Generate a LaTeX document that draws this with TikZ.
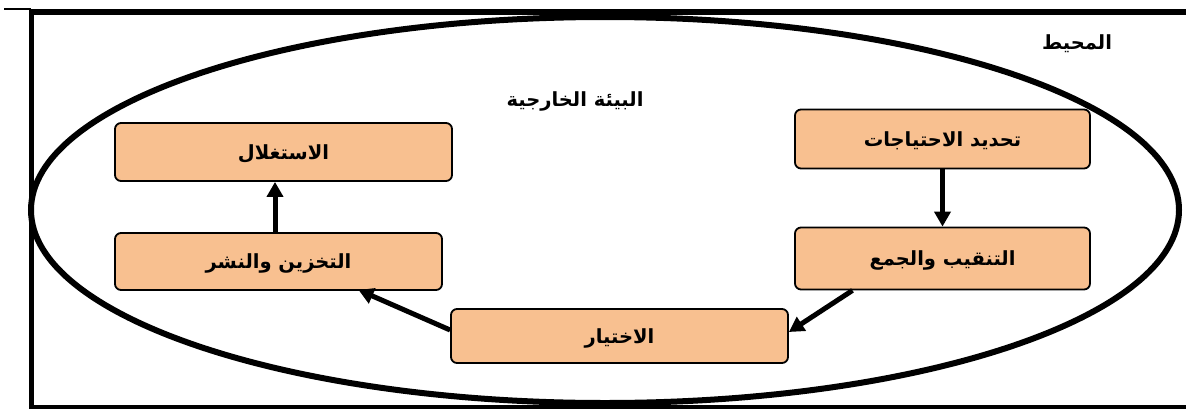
\documentclass[tikz,border=0pt]{standalone}
\usepackage{fontspec}
\usetikzlibrary{arrows.meta}
\TeXXeTstate=1
\newfontfamily\arabicfont[Script=Arabic]{DejaVu Sans}
\definecolor{peach}{RGB}{248,192,144}
\tikzset{
  stepbox/.style={draw=black, line width=1.8pt, fill=peach, rounded corners=6pt, inner sep=0pt},
  flow/.style={line width=5pt, -{Triangle[length=15pt,width=16pt]}},
  lbl/.style={font=\arabicfont\bfseries\fontsize{19.5}{21}\selectfont, inner sep=0pt}
}
\begin{document}
\begin{tikzpicture}[x=1pt,y=-1pt]
\useasboundingbox (0,0) rectangle (1186,410);
% frame
\draw[line width=2.5pt] (4,9) -- (31,9);
\draw[line width=6.5pt] (29,12) -- (1186,12);
\draw[line width=5.5pt] (31.5,9) -- (31.5,409);
\draw[line width=4.5pt] (29,407) -- (1186,407);
% ellipse
\draw[line width=6pt] (605,210) ellipse [x radius=574, y radius=193];
% labels
\node[lbl] (env) at (1077,44) {\beginR المحيط\endR};
\node[lbl] (ext) at (575,101) {\beginR البيئة الخارجية\endR};
% boxes
\node[stepbox, minimum width=295pt, minimum height=59pt] (needs) at (942.5,139) {};
\node[lbl] at ([yshift=-2pt]needs.center) {\beginR تحديد الاحتياجات\endR};
\node[stepbox, minimum width=295pt, minimum height=62pt] (dig) at (942.5,258.5) {};
\node[lbl] at ([yshift=-2pt]dig.center) {\beginR التنقيب والجمع\endR};
\node[stepbox, minimum width=337pt, minimum height=54pt] (sel) at (619.5,336) {};
\node[lbl] at ([yshift=-2pt]sel.center) {\beginR الاختيار\endR};
\node[stepbox, minimum width=327pt, minimum height=57pt] (store) at (278.5,261.5) {};
\node[lbl] at ([yshift=-2pt]store.center) {\beginR التخزين والنشر\endR};
\node[stepbox, minimum width=337pt, minimum height=58pt] (use) at (283.5,152) {};
\node[lbl] at ([yshift=-2pt]use.center) {\beginR الاستغلال\endR};
% arrows
\coordinate (upx) at (275,0);
\draw[flow] (needs.south) -- (dig.north);
\draw[flow] ([xshift=-90pt]dig.south) -- ([yshift=4pt]sel.east);
\draw[flow] ([yshift=6pt]sel.west) -- ([xshift=80pt,yshift=1pt]store.south);
\draw[flow] (store.north -| upx) -- (use.south -| upx);
\end{tikzpicture}
\end{document}
